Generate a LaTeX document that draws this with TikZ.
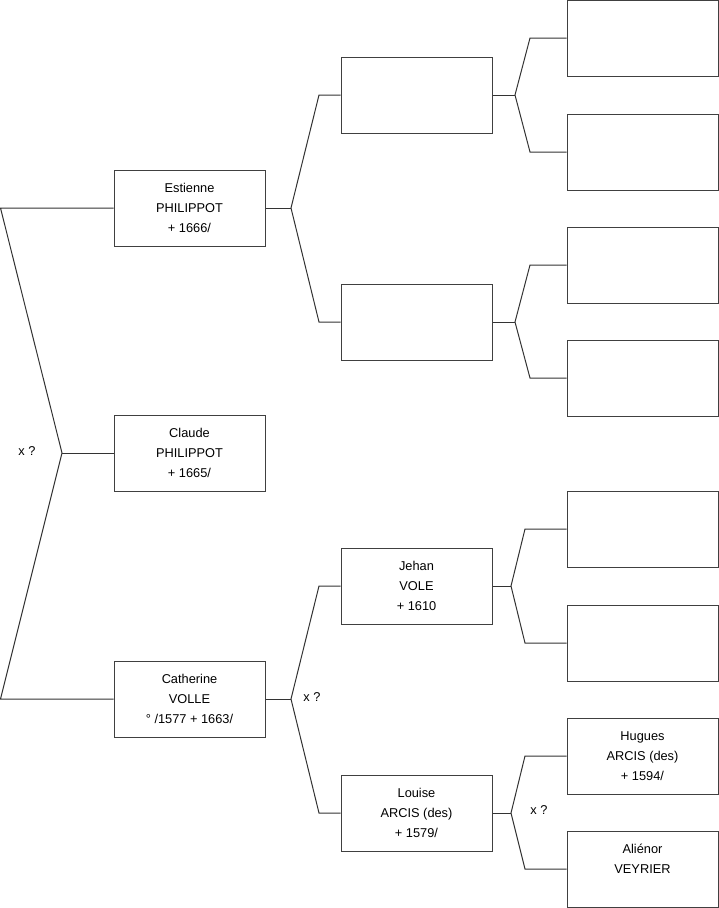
\documentclass[tikz,border=0pt]{standalone}
\usepackage{fontspec}
\setmainfont{Liberation Sans}
\begin{document}
\begin{tikzpicture}[x=1pt,y=-1pt,
  person/.style={draw=black!75, line width=1pt, minimum width=151pt, minimum height=76pt,
    inner sep=0pt, align=center, font=\fontsize{12.8}{20}\selectfont, fill=white},
  link/.style={draw=black!80, line width=1pt},
  lbl/.style={font=\fontsize{12.8}{15}\selectfont, inner sep=0pt}]
\useasboundingbox (0,0) rectangle (719,908);
% generation 1
\node[person] (est) at (189.5,208) {Estienne\\PHILIPPOT\\+ 1666/};
\node[person] (cla) at (189.5,453) {Claude\\PHILIPPOT\\+ 1665/};
\node[person] (cat) at (189.5,699) {Catherine\\VOLLE\\° /1577 + 1663/};
% generation 2
\node[person] (a1) at (416.5,95) {};
\node[person] (a2) at (416.5,322) {};
\node[person] (jeh) at (416.5,586) {Jehan\\VOLE\\+ 1610};
\node[person] (lou) at (416.5,813) {Louise\\ARCIS (des)\\+ 1579/};
% generation 3
\node[person] (b1) at (642.5,38) {};
\node[person] (b2) at (642.5,152) {};
\node[person] (b3) at (642.5,265) {};
\node[person] (b4) at (642.5,378) {};
\node[person] (b5) at (642.5,529) {};
\node[person] (b6) at (642.5,643) {};
\node[person] (hug) at (642.5,756) {Hugues\\ARCIS (des)\\+ 1594/};
\node[person] (ali) at (642.5,869) {Aliénor\\VEYRIER\\~};
% fork coordinates
\coordinate (l0t) at (0.5,208);
\coordinate (l0m) at (62,453);
\coordinate (l0b) at (0.5,699);
\coordinate (fe) at (291,208);
\coordinate (fe1) at (319,95);
\coordinate (fe2) at (319,322);
\coordinate (fc) at (291,699);
\coordinate (fc1) at (319,586);
\coordinate (fc2) at (319,813);
\coordinate (g1) at (515,95);
\coordinate (g1a) at (530,38);
\coordinate (g1b) at (530,152);
\coordinate (g2) at (515,322);
\coordinate (g2a) at (530,265);
\coordinate (g2b) at (530,378);
\coordinate (g3) at (511,586);
\coordinate (g3a) at (525,529);
\coordinate (g3b) at (525,643);
\coordinate (g4) at (511,813);
\coordinate (g4a) at (525,756);
\coordinate (g4b) at (525,869);
% connectors
\draw[link] (est.west) -- (l0t) -- (l0m) -- (l0b) -- (cat.west);
\draw[link] (l0m) -- (cla.west);
\draw[link] (est.east) -- (fe);
\draw[link] (a1.west) -- (fe1) -- (fe) -- (fe2) -- (a2.west);
\draw[link] (cat.east) -- (fc);
\draw[link] (jeh.west) -- (fc1) -- (fc) -- (fc2) -- (lou.west);
\draw[link] (a1.east) -- (g1);
\draw[link] (b1.west) -- (g1a) -- (g1) -- (g1b) -- (b2.west);
\draw[link] (a2.east) -- (g2);
\draw[link] (b3.west) -- (g2a) -- (g2) -- (g2b) -- (b4.west);
\draw[link] (jeh.east) -- (g3);
\draw[link] (b5.west) -- (g3a) -- (g3) -- (g3b) -- (b6.west);
\draw[link] (lou.east) -- (g4);
\draw[link] (hug.west) -- (g4a) -- (g4) -- (g4b) -- (ali.west);
% labels
\node[lbl] (x1) at (27,451) {x ?};
\node[lbl] (x2) at (312,697) {x ?};
\node[lbl] (x3) at (539,810) {x ?};
\end{tikzpicture}
\end{document}
